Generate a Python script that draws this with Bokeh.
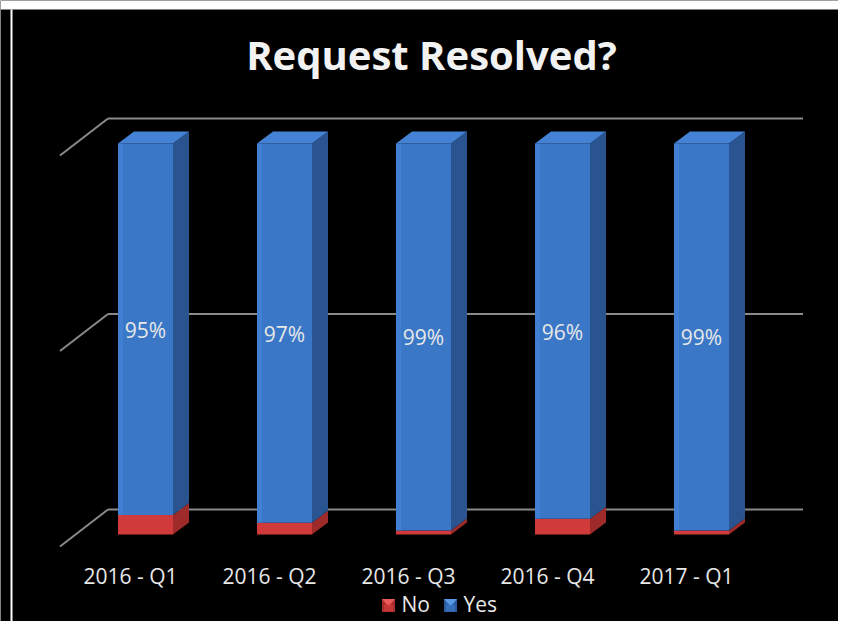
from bokeh.plotting import figure
from bokeh.models import ColumnDataSource, Range1d
from bokeh.core.properties import value
from bokeh.embed import file_html
from bokeh.resources import INLINE

# ---------------- data ----------------
categories = ["2016 - Q1", "2016 - Q2", "2016 - Q3", "2016 - Q4", "2017 - Q1"]
series = ["No", "Yes"]
no_pct = [5, 3, 1, 4, 1]
yes_pct = [95, 97, 99, 96, 99]
yes_labels = ["95%", "97%", "99%", "96%", "99%"]
grid_ticks = [0, 50, 100]
title_text = "Request Resolved?"

# ---------------- layout constants (pixels) ----------------
W, H = 838, 621
CAT0_X, CAT_STEP = 145.0, 139.0      # x of first category centre, spacing
ZERO_Y, PX_PER_PCT = 534.0, 3.91     # y of 0 %, pixels per percent


def dx(px):
    return px / CAT_STEP


def dy(px):
    return px / PX_PER_PCT


def xp(X):
    return (X - CAT0_X) / CAT_STEP


def yp(Y):
    return (ZERO_Y - Y) / PX_PER_PCT


def tshift(size):
    # empirical baseline correction for text glyphs
    return 0.41 * size


FONT = value("Open Sans")
BLUE_FRONT, BLUE_SIDE, BLUE_TOP = "#3a77c7", "#2a5490", "#4482d6"
RED_FRONT, RED_SIDE = "#d13a3a", "#9e2a2a"
GRID = "#8a8a8a"
TXT = "#e8e8e8"

p = figure(width=W, height=H,
           x_range=Range1d(xp(0), xp(W)),
           y_range=Range1d(yp(H), yp(0)),
           output_backend="svg", toolbar_location=None,
           x_axis_location=None, y_axis_location=None,
           min_border=0, background_fill_color="black",
           border_fill_color="black", outline_line_color=None)
p.grid.visible = False

# white band at the top of the picture
p.quad(left=[xp(0)], right=[xp(W)], bottom=[yp(9)], top=[yp(0)],
       fill_color="white", line_color=None)

# ---------------- 3D geometry (style) ----------------
hw = dx(27.5)                 # half bar width
bdx, bdy = dx(16), dy(12)     # bar depth
wdx, wdy = dx(32), dy(25)     # back wall offset
fdx, fdy = dx(-16), dy(-12)   # floor front offset
n = len(categories)
floor_l, floor_r = -0.5, n - 0.5

# gridlines on the back wall + left-wall diagonals
wx0, wx1, wy, dgx0, dgy0, dgx1, dgy1 = [], [], [], [], [], [], []
for t in grid_ticks:
    wx0.append(floor_l + wdx); wx1.append(floor_r + wdx); wy.append(t + wdy)
    dgx0.append(floor_l + fdx); dgy0.append(t + fdy)
    dgx1.append(floor_l + wdx); dgy1.append(t + wdy)
p.segment(x0=wx0, y0=wy, x1=wx1, y1=wy, line_color=GRID, line_width=2)
p.segment(x0=dgx0, y0=dgy0, x1=dgx1, y1=dgy1, line_color=GRID, line_width=2)

# bars
xs = list(range(n))
no_top = no_pct
yes_top = [a + b for a, b in zip(no_pct, yes_pct)]

src = ColumnDataSource(dict(
    x=xs, left=[i - hw for i in xs], right=[i + hw for i in xs],
    no_b=[0] * n, no_t=no_top, yes_b=no_pct, yes_t=yes_top,
))


def side(bottoms, tops):
    sx, sy = [], []
    for i, b, t in zip(xs, bottoms, tops):
        r = i + hw
        sx.append([r, r + bdx, r + bdx, r])
        sy.append([b, b + bdy, t + bdy, t])
    return sx, sy


# No segments
sx, sy = side([0] * n, no_top)
p.patches(sx, sy, fill_color=RED_SIDE, line_color=None)
p.quad(left="left", right="right", bottom="no_b", top="no_t", source=src,
       fill_color=RED_FRONT, line_color=None)
# Yes segments
sx, sy = side(no_pct, yes_top)
p.patches(sx, sy, fill_color=BLUE_SIDE, line_color=None)
p.quad(left="left", right="right", bottom="yes_b", top="yes_t", source=src,
       fill_color=BLUE_FRONT, line_color=None)
# subtle highlight on the left edge of the front face
p.quad(left=[i - hw for i in xs], right=[i - hw + dx(5) for i in xs],
       bottom=no_pct, top=yes_top, fill_color="#4586d8", fill_alpha=0.6,
       line_color=None)
# top faces
tx, ty = [], []
for i, t in zip(xs, yes_top):
    tx.append([i - hw, i - hw + bdx, i + hw + bdx, i + hw])
    ty.append([t, t + bdy, t + bdy, t])
p.patches(tx, ty, fill_color=BLUE_TOP, line_color=None)

# data labels (centre of the Yes segment)
lab_y = [b + v / 2 - dy(9 - tshift(21)) for b, v in zip(no_pct, yes_pct)]
p.text(x=xs, y=lab_y, text=yes_labels, text_color=TXT,
       text_font=FONT, text_font_size=value("21px"),
       text_align="center", text_baseline="alphabetic")

# category labels
p.text(x=[i - dx(15) for i in xs], y=[yp(584 - tshift(21))] * n,
       text=categories, text_color=TXT, text_font=FONT,
       text_font_size=value("21px"),
       text_align="center", text_baseline="alphabetic")

# title
p.text(x=[xp(431)], y=[yp(70 - tshift(40))], text=[title_text],
       text_color="#f2f2f2", text_font=FONT, text_font_size=value("40px"),
       text_font_style="bold", text_align="center",
       text_baseline="alphabetic")

# legend
leg_cx = [xp(388), xp(450)]
leg_tx = [xp(401), xp(463)]
leg_base = [RED_FRONT, BLUE_FRONT]
leg_dark = ["#a82c2c", "#2a5a9c"]
leg_light = ["#e85a5a", "#5a9ae6"]
cy = yp(605)
s = 6.5
p.rect(x=leg_cx, y=[cy] * 2, width=dx(13), height=dy(13),
       fill_color=leg_dark, line_color=None)
p.patches([[c - dx(s), c + dx(s), c] for c in leg_cx],
          [[cy + dy(s), cy + dy(s), cy - dy(1)] for _ in leg_cx],
          fill_color=leg_light, line_color=None)
p.rect(x=leg_cx, y=[cy - dy(2.5)] * 2, width=dx(9), height=dy(7),
       fill_color=leg_base, line_color=None, fill_alpha=0.7)
p.text(x=leg_tx, y=[yp(612 - tshift(21))] * 2, text=series, text_color=TXT,
       text_font=FONT, text_font_size=value("21px"),
       text_align="left", text_baseline="alphabetic")

# thin white frame line on the left
p.segment(x0=[xp(11)], y0=[yp(9)], x1=[xp(11)], y1=[yp(H)],
          line_color="white", line_width=2)

open("out.html", "w").write(file_html(p, INLINE))
